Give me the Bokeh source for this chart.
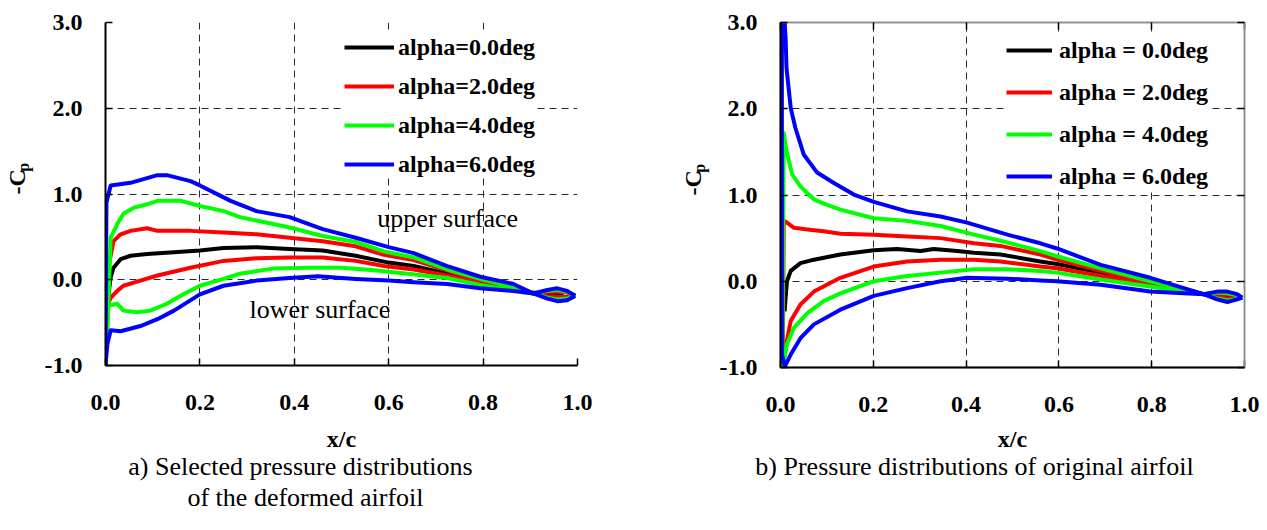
from math import pi

from bokeh.embed import file_html
from bokeh.layouts import column, row
from bokeh.models import FixedTicker, Label, Legend, LegendItem, LinearAxis, Range1d
from bokeh.plotting import figure
from bokeh.resources import INLINE

FONT = "Liberation Serif"
PAGE_H = 530
TOP_H = 425          # height of the row that holds the two plots

# ---- shared axes -------------------------------------------------------
x_ticks = [0.0, 0.2, 0.4, 0.6, 0.8, 1.0]
x_tick_labels = ["0.0", "0.2", "0.4", "0.6", "0.8", "1.0"]
y_ticks = [-1.0, 0.0, 1.0, 2.0, 3.0]
y_tick_labels = ["-1.0", "0.0", "1.0", "2.0", "3.0"]
x_title = "x/c"

alpha_colors = ["#000000", "#ff0000", "#00ff00", "#0000ff"]
deformed_legend = ["alpha=0.0deg", "alpha=2.0deg", "alpha=4.0deg", "alpha=6.0deg"]
original_legend = ["alpha = 0.0deg", "alpha = 2.0deg", "alpha = 4.0deg", "alpha = 6.0deg"]
deformed_caption = ["a) Selected pressure distributions", "of the deformed airfoil"]
original_caption = ["b) Pressure distributions of original airfoil"]

# ---- a) deformed airfoil: -Cp along x/c --------------------------------
def_a0_x = [0.004, 0.008, 0.011, 0.017, 0.032, 0.053, 0.088, 0.145, 0.20, 0.25, 0.32,
            0.39, 0.46, 0.53, 0.60, 0.653, 0.724, 0.794, 0.85, 0.90, 0.94, 0.97]
def_a0_cp = [-0.32, -0.10, 0.03, 0.14, 0.24, 0.28, 0.30, 0.32, 0.34, 0.37, 0.38,
             0.36, 0.34, 0.28, 0.20, 0.16, 0.07, -0.02, -0.08, -0.15, -0.16, -0.17]

def_a2_upper_x = [0.004, 0.008, 0.017, 0.032, 0.053, 0.088, 0.11, 0.18, 0.25, 0.32, 0.39, 0.46,
                  0.53, 0.59, 0.653, 0.724, 0.794, 0.85, 0.907, 0.936, 0.957, 0.978, 0.995]
def_a2_upper_cp = [-0.30, 0.20, 0.45, 0.53, 0.57, 0.60, 0.57, 0.57, 0.55, 0.53, 0.49, 0.45,
                   0.39, 0.29, 0.23, 0.11, -0.02, -0.09, -0.16, -0.14, -0.14, -0.15, -0.18]
def_a2_lower_x = [0.004, 0.011, 0.025, 0.038, 0.074, 0.11, 0.18, 0.25, 0.32, 0.39, 0.46,
                  0.53, 0.59, 0.653, 0.724, 0.794, 0.85, 0.907, 0.936, 0.957, 0.978, 0.995]
def_a2_lower_cp = [-0.30, -0.21, -0.13, -0.07, -0.01, 0.05, 0.14, 0.22, 0.25, 0.26, 0.26,
                   0.22, 0.16, 0.12, 0.05, -0.05, -0.10, -0.16, -0.19, -0.20, -0.20, -0.18]

def_a4_upper_x = [0.0, 0.006, 0.011, 0.025, 0.038, 0.060, 0.088, 0.11, 0.16, 0.20, 0.25, 0.285, 0.32,
                  0.39, 0.46, 0.53, 0.59, 0.653, 0.724, 0.794, 0.85, 0.907, 0.936, 0.957, 0.978, 0.995]
def_a4_upper_cp = [-1.0, -0.30, 0.49, 0.65, 0.77, 0.84, 0.88, 0.92, 0.92, 0.86, 0.80, 0.73, 0.69,
                   0.61, 0.51, 0.44, 0.33, 0.26, 0.12, 0.01, -0.07, -0.16, -0.13, -0.12, -0.14, -0.18]
def_a4_lower_x = [0.0, 0.006, 0.025, 0.038, 0.067, 0.095, 0.13, 0.165, 0.20, 0.25, 0.285, 0.355,
                  0.43, 0.50, 0.57, 0.64, 0.724, 0.794, 0.85, 0.907, 0.936, 0.957, 0.978, 0.995]
def_a4_lower_cp = [-1.0, -0.30, -0.28, -0.36, -0.38, -0.36, -0.28, -0.17, -0.07, 0.01, 0.07, 0.13,
                   0.14, 0.14, 0.11, 0.07, 0.02, -0.06, -0.11, -0.16, -0.21, -0.23, -0.22, -0.18]

def_a6_upper_x = [0.0, 0.002, 0.011, 0.053, 0.11, 0.13, 0.18, 0.20, 0.265, 0.32, 0.39, 0.46,
                  0.53, 0.60, 0.653, 0.724, 0.794, 0.864, 0.907, 0.936, 0.957, 0.978, 0.995]
def_a6_upper_cp = [-1.0, 0.90, 1.10, 1.13, 1.22, 1.22, 1.15, 1.10, 0.92, 0.80, 0.73, 0.59,
                   0.49, 0.38, 0.31, 0.16, 0.035, -0.05, -0.16, -0.12, -0.10, -0.13, -0.19]
def_a6_lower_x = [0.0, 0.004, 0.011, 0.032, 0.074, 0.11, 0.145, 0.20, 0.25, 0.32, 0.39, 0.45,
                  0.53, 0.60, 0.653, 0.724, 0.794, 0.864, 0.907, 0.936, 0.957, 0.978, 0.995]
def_a6_lower_cp = [-1.0, -0.75, -0.59, -0.60, -0.54, -0.46, -0.36, -0.17, -0.07, -0.01, 0.02, 0.04,
                   0.01, -0.01, -0.03, -0.05, -0.10, -0.13, -0.16, -0.22, -0.25, -0.24, -0.19]

# ---- b) original airfoil: -Cp along x/c --------------------------------
orig_a0_x = [0.009, 0.011, 0.014, 0.022, 0.043, 0.072, 0.129, 0.201, 0.251, 0.302, 0.330,
             0.381, 0.417, 0.474, 0.56, 0.596, 0.69, 0.797, 0.869, 0.912, 0.95, 0.98]
orig_a0_cp = [-0.35, -0.19, 0.0, 0.12, 0.21, 0.25, 0.31, 0.36, 0.375, 0.35, 0.375,
              0.35, 0.33, 0.31, 0.23, 0.20, 0.10, -0.02, -0.09, -0.15, -0.16, -0.18]

orig_a2_upper_x = [0.005, 0.007, 0.014, 0.029, 0.058, 0.093, 0.129, 0.201, 0.273, 0.345, 0.417,
                   0.474, 0.56, 0.596, 0.69, 0.797, 0.869, 0.912, 0.941, 0.963, 0.984, 0.995]
orig_a2_upper_cp = [-1.0, 0.70, 0.68, 0.62, 0.60, 0.58, 0.55, 0.54, 0.52, 0.50, 0.44,
                    0.41, 0.31, 0.25, 0.12, -0.02, -0.10, -0.15, -0.14, -0.15, -0.17, -0.19]
orig_a2_lower_x = [0.005, 0.011, 0.022, 0.043, 0.072, 0.129, 0.201, 0.273, 0.345, 0.417, 0.474,
                   0.56, 0.596, 0.69, 0.797, 0.869, 0.912, 0.941, 0.963, 0.984, 0.995]
orig_a2_lower_cp = [-1.0, -0.77, -0.46, -0.27, -0.12, 0.04, 0.17, 0.23, 0.25, 0.25, 0.23,
                    0.17, 0.15, 0.06, -0.04, -0.11, -0.15, -0.18, -0.20, -0.20, -0.19]

orig_a4_upper_x = [0.004, 0.007, 0.013, 0.025, 0.043, 0.058, 0.072, 0.093, 0.129, 0.201, 0.273, 0.345,
                   0.417, 0.474, 0.56, 0.596, 0.69, 0.797, 0.869, 0.912, 0.941, 0.963, 0.984, 0.995]
orig_a4_upper_cp = [-1.0, 1.72, 1.51, 1.24, 1.10, 1.02, 0.95, 0.90, 0.83, 0.73, 0.70, 0.64,
                    0.54, 0.47, 0.35, 0.29, 0.15, 0.0, -0.09, -0.15, -0.13, -0.14, -0.16, -0.19]
orig_a4_lower_x = [0.004, 0.014, 0.029, 0.058, 0.093, 0.129, 0.201, 0.273, 0.345, 0.417, 0.489,
                   0.56, 0.596, 0.69, 0.797, 0.869, 0.912, 0.941, 0.963, 0.984, 0.995]
orig_a4_lower_cp = [-1.0, -0.73, -0.54, -0.37, -0.23, -0.14, 0.0, 0.06, 0.10, 0.14, 0.14,
                    0.12, 0.10, 0.02, -0.06, -0.12, -0.15, -0.20, -0.22, -0.21, -0.19]

orig_a6_upper_x = [0.010, 0.003, 0.003, 0.009, 0.011, 0.013, 0.022, 0.032, 0.050, 0.079, 0.115, 0.158,
                   0.201, 0.273, 0.345, 0.402, 0.489, 0.56, 0.596, 0.69, 0.797, 0.869, 0.912, 0.941,
                   0.963, 0.984, 0.995]
orig_a6_upper_cp = [-1.0, -0.85, 3.4, 3.0, 2.82, 2.47, 2.01, 1.78, 1.47, 1.26, 1.14, 1.005,
                    0.92, 0.81, 0.75, 0.68, 0.54, 0.44, 0.38, 0.19, 0.04, -0.08, -0.15, -0.12,
                    -0.12, -0.15, -0.19]
orig_a6_lower_x = [0.010, 0.011, 0.022, 0.043, 0.072, 0.129, 0.201, 0.273, 0.345, 0.402, 0.489,
                   0.56, 0.596, 0.69, 0.797, 0.869, 0.912, 0.941, 0.963, 0.984, 0.995]
orig_a6_lower_cp = [-1.0, -0.97, -0.85, -0.66, -0.50, -0.33, -0.17, -0.08, 0.0, 0.04, 0.03,
                    0.01, 0.0, -0.04, -0.12, -0.14, -0.15, -0.21, -0.24, -0.21, -0.19]

deformed_curves = [
    [(def_a0_x, def_a0_cp)],
    [(def_a2_upper_x, def_a2_upper_cp), (def_a2_lower_x, def_a2_lower_cp)],
    [(def_a4_upper_x, def_a4_upper_cp), (def_a4_lower_x, def_a4_lower_cp)],
    [(def_a6_upper_x, def_a6_upper_cp), (def_a6_lower_x, def_a6_lower_cp)],
]
original_curves = [
    [(orig_a0_x, orig_a0_cp)],
    [(orig_a2_upper_x, orig_a2_upper_cp), (orig_a2_lower_x, orig_a2_lower_cp)],
    [(orig_a4_upper_x, orig_a4_upper_cp), (orig_a4_lower_x, orig_a4_lower_cp)],
    [(orig_a6_upper_x, orig_a6_upper_cp), (orig_a6_lower_x, orig_a6_lower_cp)],
]


def style_axis(ax, ticks, labels, line_color="black", show_labels=True):
    ax.ticker = FixedTicker(ticks=ticks)
    ax.axis_line_color = line_color
    ax.axis_line_width = 2 if line_color == "black" else 1.5
    ax.major_tick_in = 7
    ax.major_tick_out = 0
    ax.major_tick_line_color = "black"
    ax.major_tick_line_width = 1.5
    ax.minor_tick_line_color = None
    ax.major_label_text_font = FONT
    ax.major_label_text_font_style = "bold"
    ax.major_label_text_font_size = "24px"
    if show_labels:
        ax.major_label_overrides = dict(zip(ticks, labels))
        ax.major_label_text_color = "black"
    else:
        ax.major_label_text_color = None
        ax.major_label_standoff = 0


def text_canvas(width, height, x0, y0):
    """Axis-free strip whose data coordinates equal page pixels (y grows downward)."""
    c = figure(width=width, height=height, x_range=Range1d(x0, x0 + width),
               y_range=Range1d(y0 + height, y0), x_axis_type=None, y_axis_type=None,
               output_backend="svg", toolbar_location=None, min_border=0,
               background_fill_color="white", border_fill_color="white")
    c.outline_line_color = None
    c.grid.visible = False
    return c


def build_panel(curves, legend_labels, width, border_left, border_right, border_bottom,
                boxed, legend_loc, glyph_width, label_standoff, spacing):
    p = figure(width=width, height=TOP_H, x_range=Range1d(0, 1), y_range=Range1d(-1, 3),
               output_backend="svg", toolbar_location=None,
               min_border_left=border_left, min_border_right=border_right,
               min_border_top=22, min_border_bottom=border_bottom,
               background_fill_color="white", border_fill_color="white")
    p.outline_line_color = "#8c8c8c" if boxed else None
    p.outline_line_width = 1.5

    style_axis(p.xaxis[0], x_ticks, x_tick_labels)
    style_axis(p.yaxis[0], y_ticks, y_tick_labels)
    p.xaxis.major_label_standoff = 29
    p.yaxis.major_label_standoff = 23

    if boxed:
        top = LinearAxis()
        style_axis(top, x_ticks, x_tick_labels, line_color="#8c8c8c", show_labels=False)
        p.add_layout(top, "above")
        right = LinearAxis()
        style_axis(right, y_ticks, y_tick_labels, line_color="#8c8c8c", show_labels=False)
        p.add_layout(right, "right")

    p.xgrid.ticker = FixedTicker(ticks=x_ticks)
    p.ygrid.ticker = FixedTicker(ticks=y_ticks)
    for g in (p.xgrid[0], p.ygrid[0]):
        g.grid_line_color = "#2a2a2a"
        g.grid_line_dash = "7 5"
        g.grid_line_width = 1

    items = []
    for color, label, surfaces in zip(alpha_colors, legend_labels, curves):
        rs = [p.line(xs, ys, line_color=color, line_width=4, line_join="round")
              for xs, ys in surfaces]
        items.append(LegendItem(label=label, renderers=rs[:1]))

    legend = Legend(items=items, location=legend_loc, margin=0, padding=13,
                    spacing=spacing, glyph_width=glyph_width, glyph_height=28,
                    label_height=28, label_standoff=label_standoff,
                    label_text_font=FONT, label_text_font_style="bold",
                    label_text_font_size="24px", label_text_color="black",
                    border_line_color=None, background_fill_color="white",
                    background_fill_alpha=1.0)
    p.add_layout(legend)
    return p


def add_cp_label(c, x, y):
    """Rotated '-Cp' with a subscript p."""
    c.add_layout(Label(x=x, y=y, text="-C", angle=pi / 2, text_align="left",
                       text_baseline="middle", text_font=FONT, text_font_style="bold",
                       text_font_size="24px", text_color="black"))
    c.add_layout(Label(x=x + 7, y=y - 28, text="p", angle=pi / 2, text_align="left",
                       text_baseline="middle", text_font=FONT, text_font_style="bold",
                       text_font_size="16px", text_color="black"))


def add_bottom_texts(c, x_center, title_y, caption_lines, caption_x, caption_y):
    c.add_layout(Label(x=x_center, y=title_y, text=x_title, text_align="center",
                       text_baseline="middle", text_font=FONT, text_font_style="bold",
                       text_font_size="24px", text_color="black"))
    for i, line in enumerate(caption_lines):
        c.add_layout(Label(x=caption_x[i], y=caption_y[i], text=line, text_align="center",
                           text_baseline="middle", text_font=FONT,
                           text_font_size="26px", text_color="black"))


# ---- left block: deformed airfoil --------------------------------------
ylab_left = text_canvas(40, TOP_H, 0, 0)
add_cp_label(ylab_left, 16, 213)

plot_left = build_panel(deformed_curves, deformed_legend, width=593, border_left=65,
                        border_right=56, border_bottom=TOP_H - 365, boxed=False,
                        legend_loc=(239, 187), glyph_width=50, label_standoff=4, spacing=11)
for text, (tx, ty) in [("upper surface", (0.576, 0.71)), ("lower surface", (0.305, -0.35))]:
    plot_left.add_layout(Label(x=tx, y=ty, text=text, text_align="left",
                               text_baseline="middle", text_font=FONT,
                               text_font_size="26px", text_color="black"))

cap_left = text_canvas(633, PAGE_H - TOP_H, 0, TOP_H)
add_bottom_texts(cap_left, 341, 438, deformed_caption, [300, 305], [466, 497])

# ---- right block: original airfoil -------------------------------------
ylab_right = text_canvas(80, TOP_H, 633, 0)
add_cp_label(ylab_right, 692, 213)

plot_right = build_panel(original_curves, original_legend, width=554, border_left=67,
                         border_right=23, border_bottom=TOP_H - 367, boxed=True,
                         legend_loc=(226, 177), glyph_width=46, label_standoff=7, spacing=14)

cap_right = text_canvas(634, PAGE_H - TOP_H, 633, TOP_H)
add_bottom_texts(cap_right, 1012, 438, original_caption, [974], [466])

layout = row(
    column(row(ylab_left, plot_left), cap_left),
    column(row(ylab_right, plot_right), cap_right),
)

with open("out.html", "w") as f:
    f.write(file_html(layout, INLINE))
